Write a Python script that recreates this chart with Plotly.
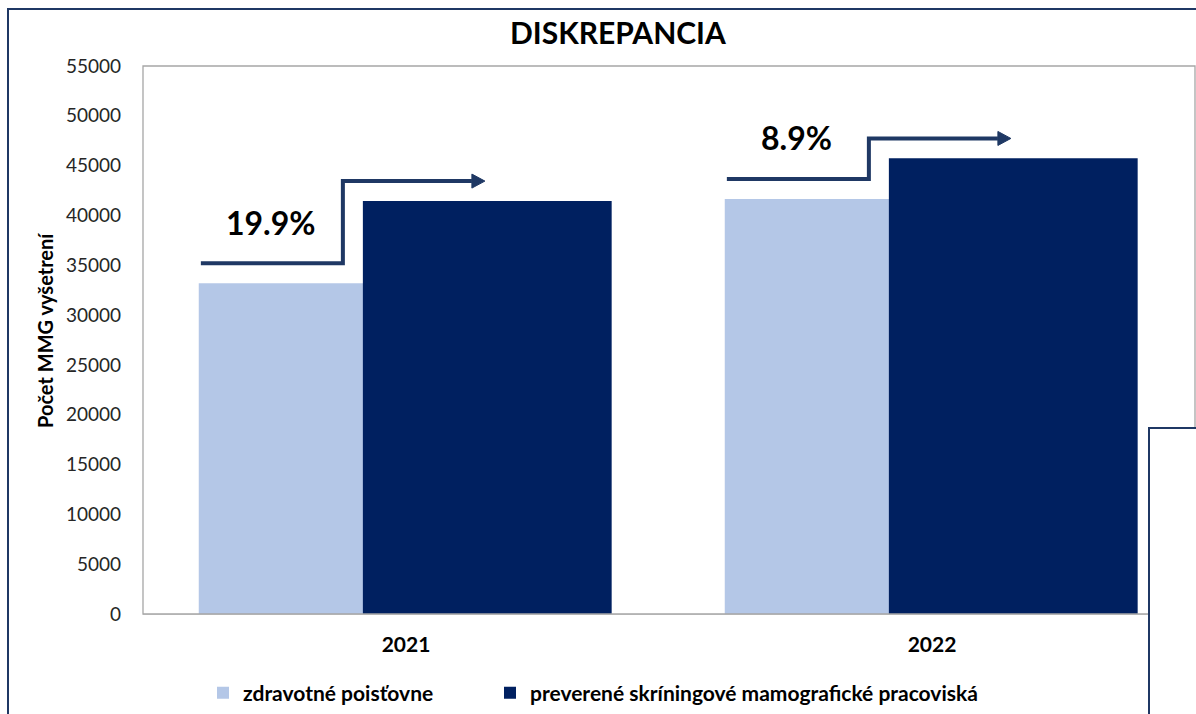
import plotly.graph_objects as go

# ---- data ----
years = ["2021", "2022"]
insurers = [33200, 41650]          # zdravotné poisťovne
screening = [41450, 45730]         # preverené skríningové mamografické pracoviská
series_names = ["zdravotné poisťovne", "preverené skríningové mamografické pracoviská"]
y_ticks = list(range(0, 55001, 5000))

LIGHT = "#B4C7E7"
DARK = "#002060"
ARROW = "#1F3864"
FONT = "Lato"

# pixel geometry helpers (plot area 143..1195 x 66..614)
L, T, W, H = 143, 66, 1052, 548
YMAX = 55000
x_per_px = 2.0 / W          # x range is [-0.5, 1.5]
y_per_px = YMAX / H

def px_x(px):
    return (px - L) / W

def px_y(py):
    return (T + H - py) / H

xs = list(range(len(years)))
bar_w = 0.473

fig = go.Figure()
fig.add_trace(go.Bar(x=xs, y=insurers, name=series_names[0], width=bar_w, offset=-0.394,
                     marker=dict(color=LIGHT, line=dict(width=0)), legend="legend"))
fig.add_trace(go.Bar(x=xs, y=screening, name=series_names[1], width=bar_w, offset=-0.082,
                     marker=dict(color=DARK, line=dict(width=0)), legend="legend2"))

shapes = []
annotations = []
lift = 2000
for i, (a, b) in enumerate(zip(insurers, screening)):
    y0 = a + lift
    y1 = b + lift
    xa = i - 0.39
    xv = i - 0.12
    xt = i + 0.15
    head_len = 13 * x_per_px
    head_half = 7 * y_per_px
    xb = xt - head_len
    shapes.append(dict(type="path", xref="x", yref="y",
                       path=f"M {xa},{y0} L {xv},{y0} L {xv},{y1} L {xb},{y1}",
                       line=dict(color=ARROW, width=4), layer="above"))
    shapes.append(dict(type="path", xref="x", yref="y",
                       path=f"M {xb},{y1 - head_half} L {xt},{y1} L {xb},{y1 + head_half} Z",
                       line=dict(color=ARROW, width=1), fillcolor=ARROW, layer="above"))
    pct = (b - a) / b * 100
    annotations.append(dict(x=i - 0.257, y=a + 6130, xref="x", yref="y",
                            text=f"<b>{pct:.1f}%</b>", showarrow=False,
                            font=dict(family=FONT, size=32, color="black"),
                            xanchor="center", yanchor="middle"))

# plot area frame
shapes.append(dict(type="rect", xref="paper", yref="paper", x0=0, x1=1, y0=0, y1=1,
                   line=dict(color="#A6A6A6", width=1.3), layer="above"))
# outer chart frame
shapes.append(dict(type="rect", xref="paper", yref="paper",
                   x0=px_x(8), x1=px_x(1260), y0=px_y(800), y1=px_y(9),
                   line=dict(color=ARROW, width=2), layer="above"))
# overlapping box at bottom right
shapes.append(dict(type="rect", xref="paper", yref="paper",
                   x0=px_x(1149), x1=px_x(1300), y0=px_y(800), y1=px_y(428),
                   line=dict(color=ARROW, width=2), fillcolor="white", layer="above"))

annotations.append(dict(x=px_x(618), y=px_y(32), xref="paper", yref="paper",
                        text="<b>DISKREPANCIA</b>", showarrow=False,
                        font=dict(family=FONT, size=30, color="black"),
                        xanchor="center", yanchor="middle"))
annotations.append(dict(x=px_x(45), y=px_y(330), xref="paper", yref="paper",
                        text="<b>Počet MMG vyšetrení</b>", showarrow=False, textangle=-90,
                        font=dict(family=FONT, size=20, color="black"),
                        xanchor="center", yanchor="middle"))

legend_style = dict(orientation="h", xanchor="left", y=px_y(693), yanchor="middle",
                    font=dict(family=FONT, size=21, color="black", weight="bold"),
                    itemwidth=30, bgcolor="rgba(0,0,0,0)")

fig.update_layout(
    width=1196, height=714,
    margin=dict(l=L, r=1196 - L - W, t=T, b=714 - T - H, pad=0),
    paper_bgcolor="white", plot_bgcolor="white",
    barmode="overlay",
    showlegend=True,
    legend=dict(x=px_x(203), **legend_style),
    legend2=dict(x=px_x(490), **legend_style),
    shapes=shapes,
    annotations=annotations,
    font=dict(family=FONT),
)
fig.update_xaxes(range=[-0.5, 1.5], tickvals=xs, ticktext=[f"<b>{y}</b>" for y in years],
                 tickfont=dict(family=FONT, size=21, color="black"),
                 showgrid=False, zeroline=False, showline=True, linecolor="#D9D9D9", linewidth=1.3,
                 ticks="", ticklabelstandoff=12, fixedrange=True)
fig.update_yaxes(range=[0, YMAX], tickvals=y_ticks, ticktext=[str(v) for v in y_ticks],
                 tickfont=dict(family=FONT, size=19, color="#262626"),
                 showgrid=False, zeroline=False, showline=False,
                 ticks="", ticklabelstandoff=21, fixedrange=True)

fig.write_html("out.html", config={"displayModeBar": False},
               post_script="document.body.style.margin='0';document.body.style.overflow='hidden';")
